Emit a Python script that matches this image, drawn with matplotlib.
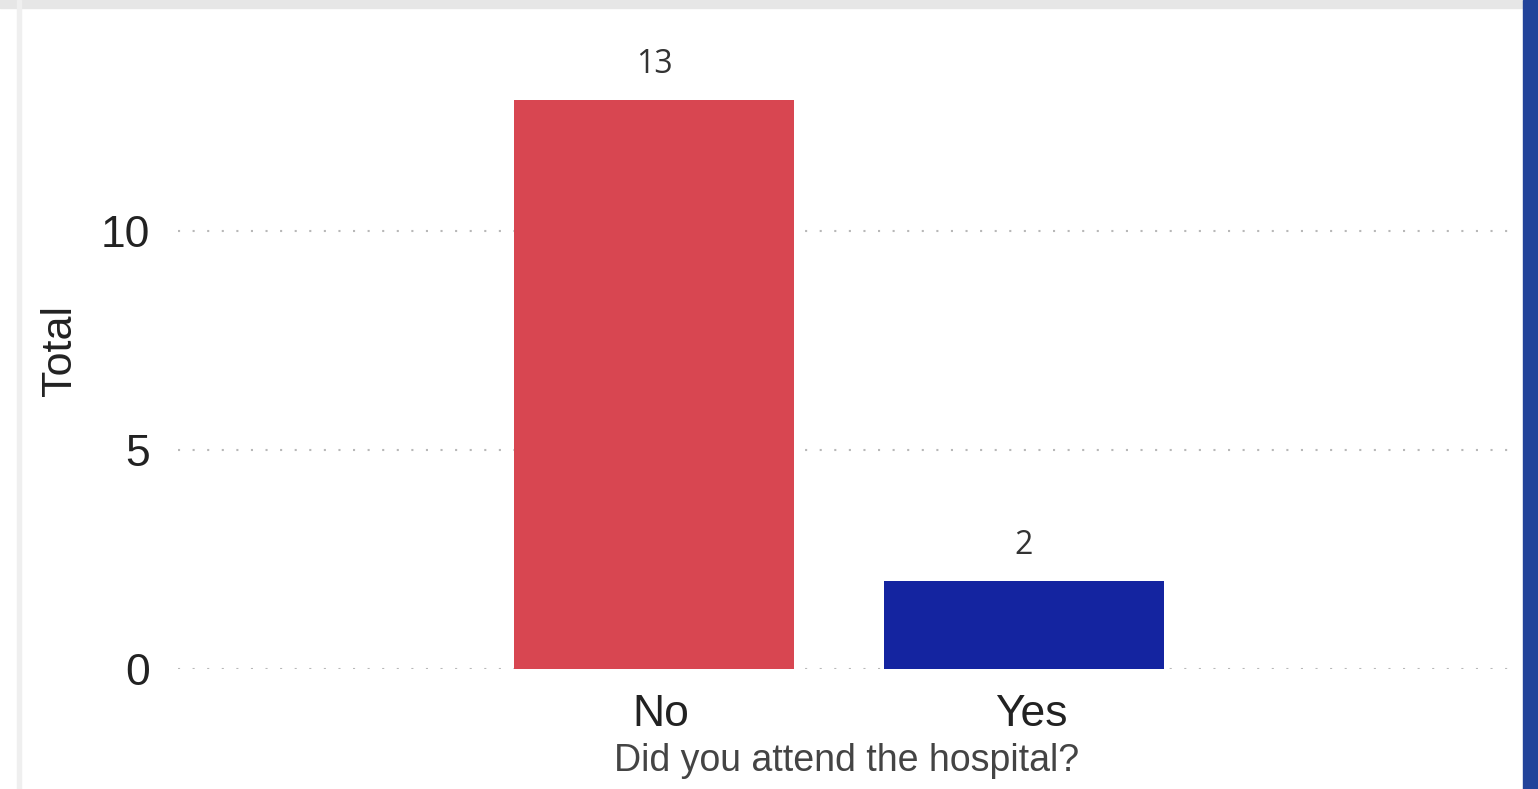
import matplotlib
matplotlib.use("Agg")
import matplotlib.pyplot as plt
import matplotlib.transforms as mtransforms
from matplotlib.patches import Rectangle

# --- data
categories = ["No", "Yes"]
totals = [13, 2]
bar_colors = ["#d84651", "#1424a0"]
y_ticks = [0, 5, 10]

W, H = 1538, 789
fig = plt.figure(figsize=(W / 100, H / 100), dpi=100)
fig.patch.set_facecolor("white")

# --- page furniture around the visual (grey frame, blue strip on the right)
fig.patches.append(Rectangle((0, 1 - 8 / H), 1, 8 / H, transform=fig.transFigure,
                             color="#e6e6e6", zorder=0))
fig.patches.append(Rectangle((17 / W, 0), 4 / W, 1, transform=fig.transFigure,
                             color="#efefef", zorder=0))
fig.patches.append(Rectangle((1523 / W, 0), 15 / W, 1, transform=fig.transFigure,
                             color="#22439a", zorder=0))

left, right, bottom, top = 178, 1515, 669, 20
ax = fig.add_axes([left / W, 1 - bottom / H, (right - left) / W, (bottom - top) / H])
ax.set_facecolor("none")

x = list(range(len(categories)))
bars = ax.bar(x, totals, width=0.757, color=bar_colors, zorder=3)

for xi, v in zip(x, totals):
    ax.annotate(str(v), (xi, v), xytext=(0, 19.5), textcoords="offset points",
                ha="center", va="baseline", fontsize=23, color="#333333",
                family=["Open Sans", "DejaVu Sans"], annotation_clip=False)

ax.set_xlim(-1.2865, 2.327)
ax.set_ylim(0, (bottom - top) / 43.8)

ax.set_yticks(y_ticks)
ax.set_yticklabels([str(t) for t in y_ticks])
ax.set_xticks(x)
ax.set_xticklabels(categories)

ax.tick_params(axis="y", length=0, pad=20, labelsize=32, labelcolor="#222222")
ax.tick_params(axis="x", length=0, pad=18, labelsize=32, labelcolor="#222222")
for lbl in ax.get_xticklabels() + ax.get_yticklabels():
    lbl.set_family(["Liberation Sans", "DejaVu Sans"])
shift = mtransforms.ScaledTranslation(7 / 100, 0, fig.dpi_scale_trans)
for lbl in ax.get_xticklabels():
    lbl.set_transform(lbl.get_transform() + shift)

ax.yaxis.grid(True, linestyle=(0, (1, 6)), color="#b8b8b8", linewidth=1.5, zorder=0)
ax.set_axisbelow(True)
for s in ax.spines.values():
    s.set_visible(False)

ax.set_xlabel("Did you attend the hospital?", fontsize=27, color="#444444",
              family=["Liberation Sans", "DejaVu Sans"], labelpad=6)
ax.set_ylabel("Total", fontsize=31, color="#222222",
              family=["Liberation Sans", "DejaVu Sans"])
ax.yaxis.set_label_coords((80 - left) / (right - left), (669 - 350) / (bottom - top))

fig.savefig("out.png", dpi=100)
